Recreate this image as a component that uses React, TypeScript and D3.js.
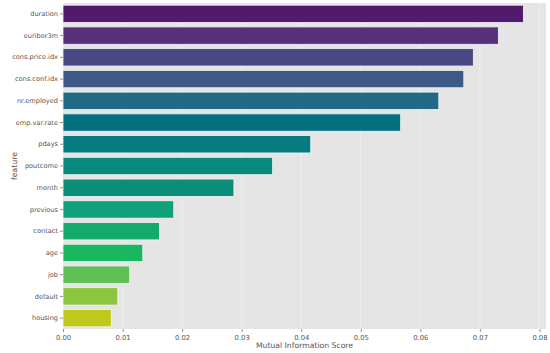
import React, { useEffect, useRef } from 'react';
import * as d3 from 'd3';

const features = [
  'duration', 'euribor3m', 'cons.price.idx', 'cons.conf.idx', 'nr.employed',
  'emp.var.rate', 'pdays', 'poutcome', 'month', 'previous',
  'contact', 'age', 'job', 'default', 'housing',
];
const scores = [
  0.0773, 0.0731, 0.0689, 0.0673, 0.0631,
  0.0567, 0.0416, 0.0352, 0.0287, 0.0186,
  0.0162, 0.0134, 0.0112, 0.0092, 0.0081,
];
const xTicks = [0, 0.01, 0.02, 0.03, 0.04, 0.05, 0.06, 0.07, 0.08];
// viridis-like palette as it appears in the picture
const barColors = [
  '#521a6a', '#56317a', '#4a4884', '#3c5987', '#216a86',
  '#037080', '#067c80', '#088a7c', '#0b8e78', '#11a07a',
  '#14aa6c', '#18b860', '#5ec052', '#8cc63c', '#c0c81a',
];

const W = 550;
const H = 353;

const App: React.FC = () => {
  const svgRef = useRef<SVGSVGElement>(null);

  useEffect(() => {
    if (!svgRef.current) return;
    const svg = d3.select(svgRef.current);
    svg.selectAll('*').remove();

    const margin = { top: 3, right: 4, bottom: 24, left: 63 };
    const width = W - margin.left - margin.right;
    const height = H - margin.top - margin.bottom;

    const g = svg.append('g').attr('transform', `translate(${margin.left},${margin.top})`);

    const x = d3.scaleLinear().domain([0, 0.0811]).range([0, width]);
    const y = d3.scaleBand<string>().domain(features).range([0, height]).paddingInner(0.2).paddingOuter(0.1);

    // panel
    g.append('rect').attr('width', width).attr('height', height).attr('fill', '#e5e5e5');

    // faint grid
    g.selectAll('.vgrid')
      .data(xTicks)
      .enter().append('line')
      .attr('x1', d => x(d)).attr('x2', d => x(d))
      .attr('y1', 0).attr('y2', height)
      .attr('stroke', '#ffffff').attr('stroke-opacity', 0.5).attr('stroke-width', 0.8);

    // bars
    g.selectAll('.bar')
      .data(features)
      .enter().append('rect')
      .attr('x', 0)
      .attr('y', d => y(d)!)
      .attr('width', (d, i) => x(scores[i]))
      .attr('height', y.bandwidth())
      .attr('fill', (d, i) => barColors[i])
      .attr('stroke', '#f4f4f8')
      .attr('stroke-width', 0.8);

    const textColor = '#555555';
    const font = 'DejaVu Sans, sans-serif';

    // y axis
    const yAxis = g.append('g').call(d3.axisLeft(y).tickSize(3).tickPadding(2));
    yAxis.select('.domain').remove();
    yAxis.selectAll('line').attr('stroke', '#777777').attr('stroke-width', 0.8);
    yAxis.selectAll('text').attr('fill', textColor).attr('font-family', font).attr('font-size', 6.6);

    // x axis
    const xAxis = g.append('g')
      .attr('transform', `translate(0,${height})`)
      .call(d3.axisBottom(x).tickValues(xTicks).tickFormat(d3.format('.2f')).tickSize(3).tickPadding(3));
    xAxis.select('.domain').remove();
    xAxis.selectAll('line').attr('stroke', '#777777').attr('stroke-width', 0.8);
    xAxis.selectAll('text').attr('fill', textColor).attr('font-family', font).attr('font-size', 6.8);

    // labels
    svg.append('text')
      .attr('x', margin.left + width / 2)
      .attr('y', H - 5)
      .attr('text-anchor', 'middle')
      .attr('fill', textColor)
      .attr('font-family', font)
      .attr('font-size', 7.7)
      .text('Mutual Information Score');

    svg.append('text')
      .attr('transform', `translate(17,${margin.top + height / 2}) rotate(-90)`)
      .attr('text-anchor', 'middle')
      .attr('fill', textColor)
      .attr('font-family', font)
      .attr('font-size', 7.7)
      .text('feature');
  }, []);

  return (
    <svg
      ref={svgRef}
      width={W}
      height={H}
      style={{ position: 'absolute', left: 0, top: 0, background: '#ffffff' }}
    />
  );
};

export default App;
